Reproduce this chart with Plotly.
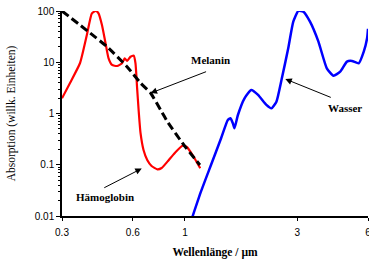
import math
import plotly.graph_objects as go

# Hämoglobin (red)
hb_x = [0.300, 0.3245, 0.358, 0.3826, 0.402, 0.4174, 0.429, 0.4436, 0.4582, 0.4733,
        0.4896, 0.5144, 0.540, 0.5544, 0.5676, 0.5864, 0.6057, 0.616, 0.626, 0.636,
        0.647, 0.6664, 0.691, 0.721, 0.763, 0.796, 0.842, 0.905, 0.976, 1.018, 1.077, 1.161]
hb_y = [1.98, 3.94, 9.67, 34.0, 90.2, 100.0, 90.2, 53.3, 25.2, 11.9,
        8.84, 8.45, 9.54, 11.9, 10.6, 12.8, 13.4, 9.5, 3.1, 1.08,
        0.417, 0.194, 0.124, 0.0946, 0.0815, 0.0864, 0.115, 0.17, 0.235, 0.222, 0.155, 0.0853]

# Melanin (black dashed)
mel_x = [0.300, 0.395, 0.466, 0.567, 0.647, 0.714, 0.788, 0.844, 0.989, 1.157]
mel_y = [100.0, 37.2, 20.1, 8.2, 3.94, 2.51, 1.17, 0.68, 0.243, 0.099]

# Wasser (blue)
w_x = [1.077, 1.169, 1.29, 1.424, 1.521, 1.561, 1.598, 1.623, 1.679, 1.791, 1.914,
       2.045, 2.219, 2.331, 2.448, 2.572, 2.748, 2.887, 3.033, 3.186, 3.401, 3.693,
       4.009, 4.281, 4.569, 4.882, 5.129, 5.48, 5.756, 5.946, 6.0]
w_y = [0.0098, 0.0298, 0.0989, 0.328, 0.746, 0.806, 0.644, 0.514, 0.935, 1.98, 2.87,
       2.30, 1.47, 1.26, 1.70, 4.5, 18.7, 61.8, 100.0, 96.9, 61.8, 25.2,
       7.62, 5.47, 6.54, 10.3, 10.6, 9.54, 16.1, 29.3, 45.0]

x_ticks = [0.3, 0.6, 1, 3, 6]
x_ticktext = ["0.3", "0.6", "1", "3", "6"]
y_ticks = [0.01, 0.1, 1, 10, 100]
y_ticktext = ["0.01", "0.1", "1", "10", "100"]

# label positions (data units) and arrow tips
label_names = ["Melanin", "Wasser", "Hämoglobin"]
label_x = [1.28, 4.80, 0.457]
label_y = [11.1, 1.28, 0.0235]
arrow_tip_x = [0.714, 2.67, 0.655]
arrow_tip_y = [2.5, 4.71, 0.0845]
arrow_dx = [57, 47, -39]
arrow_dy = [-22, 19, 20]

fig = go.Figure()
fig.add_trace(go.Scatter(x=hb_x, y=hb_y, mode="lines",
                         line=dict(color="#ff0000", width=2.2, shape="spline", smoothing=0.5)))
fig.add_trace(go.Scatter(x=w_x, y=w_y, mode="lines",
                         line=dict(color="#0000ff", width=2.5, shape="spline", smoothing=0.5)))
fig.add_trace(go.Scatter(x=mel_x, y=mel_y, mode="lines",
                         line=dict(color="black", width=3, dash="8px,4px", shape="spline", smoothing=0.5)))

serif = "Liberation Serif"
sans = "Liberation Sans"

for name, lx, ly in zip(label_names, label_x, label_y):
    fig.add_annotation(x=math.log10(lx), y=math.log10(ly), text="<b>%s</b>" % name,
                       showarrow=False, font=dict(family=serif, size=11, color="black"))

for tx, ty, dx, dy in zip(arrow_tip_x, arrow_tip_y, arrow_dx, arrow_dy):
    fig.add_annotation(x=math.log10(tx), y=math.log10(ty), text="", showarrow=True, arrowhead=2,
                       arrowsize=1.3, arrowwidth=1, arrowcolor="black",
                       ax=dx, ay=dy, xref="x", yref="y")

fig.update_layout(
    width=369, height=261,
    margin=dict(l=62, r=1, t=11, b=45),
    paper_bgcolor="white", plot_bgcolor="white",
    showlegend=False,
    xaxis=dict(type="log", range=[math.log10(0.3), math.log10(6)], automargin=False,
               tickvals=x_ticks, ticktext=x_ticktext, ticklabeloverflow="allow",
               tickfont=dict(family=sans, size=10, color="black"), ticklabelstandoff=3,
               ticks="outside", ticklen=3, tickcolor="black",
               showline=True, linecolor="black", linewidth=1.5,
               showgrid=False, zeroline=False,
               title=dict(text="<b>Wellenlänge / µm</b>", font=dict(family=serif, size=11.5, color="black"),
                          standoff=11)),
    yaxis=dict(type="log", range=[-2, 2], automargin=False,
               tickvals=y_ticks, ticktext=y_ticktext, ticklabeloverflow="allow",
               tickfont=dict(family=sans, size=10, color="black"),
               ticks="outside", ticklen=4, tickcolor="black",
               minor=dict(ticks="outside", ticklen=2, tickcolor="black", showgrid=False,
                          tickmode="linear", tick0=0, dtick="D1"),
               showline=True, linecolor="black", linewidth=1.5,
               showgrid=False, zeroline=False,
               title=dict(text="Absorption (willk. Einheiten)", font=dict(family=serif, size=11.5, color="black"),
                          standoff=17)),
)

fig.write_html("out.html", config={"displayModeBar": False},
               post_script="document.body.style.margin='0px';document.body.style.overflow='hidden';")
